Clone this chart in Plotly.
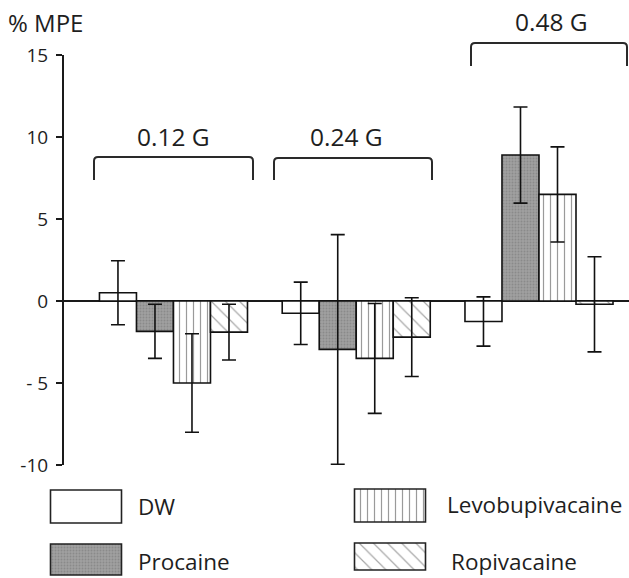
import plotly.graph_objects as go

# ---------------- data ----------------
GROUPS = ["0.12 G", "0.24 G", "0.48 G"]
SERIES = ["DW", "Procaine", "Levobupivacaine", "Ropivacaine"]

DW = [0.5, -0.75, -1.25]
DW_ERR = [1.95, 1.9, 1.5]
PROCAINE = [-1.85, -2.95, 8.9]
PROCAINE_ERR = [1.65, 7.0, 2.93]
LEVO = [-5.0, -3.5, 6.5]
LEVO_ERR = [3.0, 3.35, 2.9]
ROPI = [-1.9, -2.2, -0.2]
ROPI_ERR = [1.7, 2.4, 2.9]

Y_TICKS = [-10, -5, 0, 5, 10, 15]
Y_TICK_TEXT = ["-10", "- 5", "0", "5", "10", "15"]
Y_TITLE = "% MPE"

VALUES = [DW, PROCAINE, LEVO, ROPI]
ERRORS = [DW_ERR, PROCAINE_ERR, LEVO_ERR, ROPI_ERR]

# ---------------- styles ----------------
W, H = 629, 578
FONT = "Open Sans"
TXT = "#1e1e1e"
STYLES = {
    "DW": dict(bg="#ffffff", fg="#ffffff", shape="", size=8, solidity=0.2),
    "Procaine": dict(bg="#a0a0a0", fg="#8a8a8a", shape=".", size=3, solidity=0.3),
    "Levobupivacaine": dict(bg="#ffffff", fg="#9a9a9a", shape="|", size=7, solidity=0.17),
    "Ropivacaine": dict(bg="#ffffff", fg="#a8a8a8", shape="\\", size=10, solidity=0.12),
}


def px(x):
    return x / W


def py(y):
    return 1 - y / H


def pattern(st):
    return dict(shape=st["shape"], bgcolor=st["bg"], fgcolor=st["fg"],
                size=st["size"], solidity=st["solidity"], fillmode="replace")


fig = go.Figure()

for name, vals, errs in zip(SERIES, VALUES, ERRORS):
    st = STYLES[name]
    fig.add_trace(go.Bar(
        x=list(range(len(GROUPS))), y=vals, name=name,
        marker=dict(color=st["bg"], line=dict(color="#111111", width=1.6),
                    pattern=pattern(st)),
        error_y=dict(type="data", array=errs, visible=True, color="#111111",
                     thickness=1.6, width=7),
        showlegend=False, hoverinfo="skip",
    ))

# ---------------- custom legend (patterned boxes) ----------------
LEG_X = [86, 86, 390, 390]          # box centres (px)
LEG_TOP = [490, 544, 489, 543]      # box tops (px)
LEG_H = [33, 31, 33, 27]
LEG_W = 71
LEG_TEXT_X = [136, 136, 445, 449]
LEG_TEXT_Y = [506, 561, 504, 561]
for name, lx, lt, lh in zip(SERIES, LEG_X, LEG_TOP, LEG_H):
    st = STYLES[name]
    fig.add_trace(go.Bar(
        x=[lx], y=[lh], base=[lt], width=[LEG_W], offset=-LEG_W / 2,
        xaxis="x2", yaxis="y2",
        marker=dict(color=st["bg"], line=dict(color="#222222", width=1.6),
                    pattern=pattern(st)),
        showlegend=False, hoverinfo="skip",
    ))

annotations = []
for name, tx, ty in zip(SERIES, LEG_TEXT_X, LEG_TEXT_Y):
    annotations.append(dict(x=px(tx), y=py(ty), xref="paper", yref="paper",
                            text=name, showarrow=False, xanchor="left", yanchor="middle",
                            font=dict(family=FONT, size=22.5, color=TXT)))

# ---------------- group brackets & labels ----------------
BRACKETS = [  # x0, x1, ytop, ybottom, label centre x, label y (px)
    (94, 253, 157, 180, 174, 136),
    (274, 432, 158, 180, 346, 136),
    (471, 627, 43, 66, 551, 21),
]
shapes = []
r = 4
for (x0, x1, yt, yb, lx, ly), g in zip(BRACKETS, GROUPS):
    path = (f"M {px(x0)},{py(yb)} L {px(x0)},{py(yt + r)} "
            f"Q {px(x0)},{py(yt)} {px(x0 + r)},{py(yt)} "
            f"L {px(x1 - r)},{py(yt)} Q {px(x1)},{py(yt)} {px(x1)},{py(yt + r)} "
            f"L {px(x1)},{py(yb)}")
    shapes.append(dict(type="path", path=path, xref="paper", yref="paper",
                       line=dict(color="#2a2a2a", width=2)))
    annotations.append(dict(x=px(lx), y=py(ly), xref="paper", yref="paper", text=g,
                            showarrow=False, xanchor="center", yanchor="middle",
                            font=dict(family=FONT, size=24.5, color=TXT)))

annotations.append(dict(x=px(6), y=py(22), xref="paper", yref="paper", text=Y_TITLE,
                        showarrow=False, xanchor="left", yanchor="middle",
                        font=dict(family=FONT, size=24, color=TXT)))

fig.update_layout(
    width=W, height=H,
    margin=dict(l=0, r=0, t=0, b=0, pad=0, autoexpand=False),
    paper_bgcolor="white", plot_bgcolor="rgba(0,0,0,0)",
    barmode="group", bargap=0.19, bargroupgap=0,
    xaxis=dict(domain=[px(64), 1], range=[-0.599, 2.4925], showgrid=False,
               zeroline=False, showline=False, showticklabels=False, ticks="",
               fixedrange=True, automargin=False),
    yaxis=dict(domain=[py(465), py(55)], range=[-10, 15], tickvals=Y_TICKS,
               ticktext=Y_TICK_TEXT, showgrid=False, showline=True, linecolor="#1a1a1a",
               linewidth=2, ticks="outside", ticklen=6, tickwidth=1.6, tickcolor="#1a1a1a",
               zeroline=True, zerolinecolor="#1a1a1a", zerolinewidth=1.6,
               tickfont=dict(family=FONT, size=19, color=TXT), ticklabelstandoff=4,
               fixedrange=True, automargin=False),
    xaxis2=dict(domain=[0, 1], range=[0, W], visible=False, anchor="y2",
                fixedrange=True, automargin=False),
    yaxis2=dict(domain=[0, 1], range=[H, 0], visible=False, anchor="x2",
                fixedrange=True, automargin=False),
    shapes=shapes,
    annotations=annotations,
    showlegend=False,
)

fig.write_html("out.html", config={"displayModeBar": False},
               post_script="document.body.style.margin='0';document.body.style.overflow='hidden';")
